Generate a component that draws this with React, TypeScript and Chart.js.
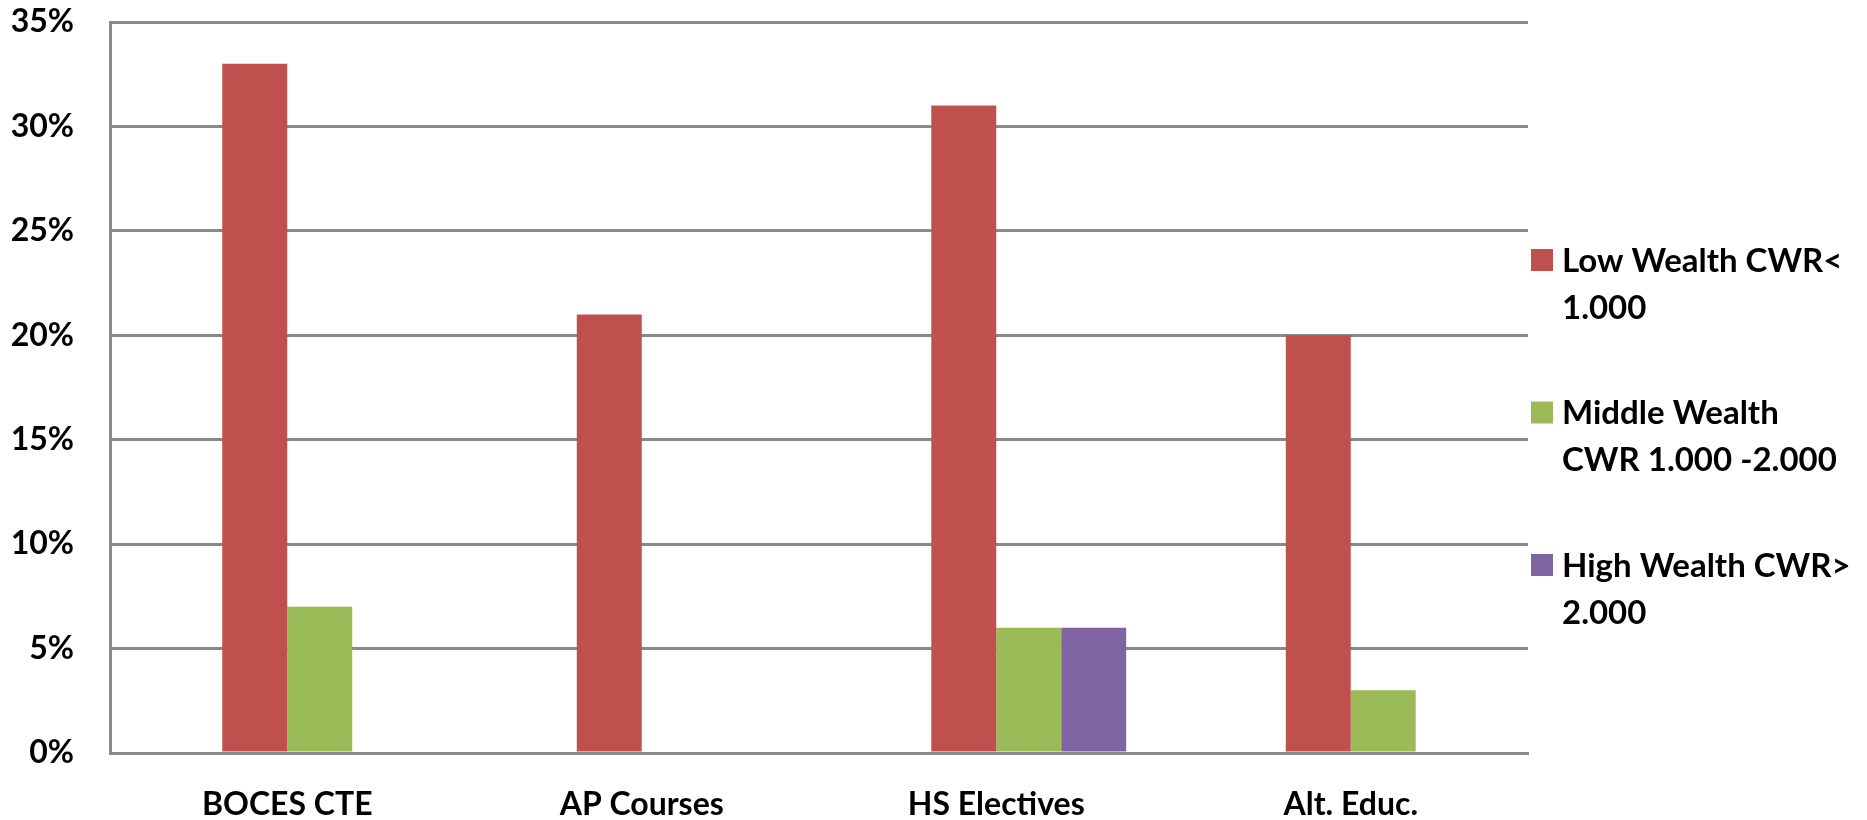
import React, { useEffect, useRef } from "react";
import { Chart, registerables } from "chart.js";

Chart.register(...registerables);

const categories = ["BOCES CTE", "AP Courses", "HS Electives", "Alt. Educ."];
const lowWealth = [33, 21, 31, 20];
const middleWealth = [7, 0, 6, 3];
const highWealth = [0, 0, 6, 0];
const seriesNames = [
  ["Low Wealth CWR<", "1.000"],
  ["Middle Wealth", "CWR 1.000 -2.000"],
  ["High Wealth CWR>", "2.000"],
];
const seriesColors = ["#C0504D", "#9BBB59", "#8064A2"];
const yMin = 0;
const yMax = 35;
const yStep = 5;

const FONT = "Lato, 'Open Sans', sans-serif";
const GRID = "#898989";

const legendPlugin = {
  id: "sideLegend",
  afterDraw(chart: any) {
    const ctx = chart.ctx;
    const area = chart.chartArea;
    const x0 = area.right + 3;
    ctx.save();
    ctx.font = `bold 33px ${FONT}`;
    ctx.textBaseline = "middle";
    ctx.textAlign = "left";
    let idx = 0;
    chart.data.datasets.forEach((ds: any) => {
      if (!Array.isArray(ds.label)) return;
      const cy = 260 + idx * 152.5;
      ctx.fillStyle = ds.backgroundColor;
      ctx.fillRect(x0, cy - 11, 22, 22);
      ctx.fillStyle = "#000";
      ds.label.forEach((line: string, j: number) => {
        ctx.fillText(line, x0 + 31, cy + 1 + j * 47);
      });
      idx++;
    });
    ctx.restore();
  },
};

export default function App() {
  const ref = useRef<HTMLCanvasElement>(null);
  useEffect(() => {
    const series = [lowWealth, middleWealth, highWealth];
    const chart = new Chart(ref.current!, {
      type: "bar",
      data: {
        labels: categories,
        datasets: [
          { label: "", data: categories.map(() => null), backgroundColor: "rgba(0,0,0,0)" } as any,
          ...series.map((d, i) => ({
            label: seriesNames[i] as any,
            data: d,
            backgroundColor: seriesColors[i],
            borderWidth: 0,
          })),
        ],
      },
      options: {
        responsive: false,
        animation: false,
        events: [],
        datasets: { bar: { categoryPercentage: 0.733, barPercentage: 1.0 } },
        layout: { padding: { left: 0, right: 339, top: 22, bottom: 0 } },
        plugins: { legend: { display: false }, tooltip: { enabled: false } },
        scales: {
          x: {
            grid: { display: false, drawTicks: false },
            border: { display: true, color: GRID, width: 3 },
            ticks: { color: "#000", font: { family: FONT, size: 32, weight: "bold" }, padding: 32, maxRotation: 0 },
            afterFit: (s: any) => {
              s.height = 67;
              s.paddingLeft = 0;
              s.paddingRight = 0;
            },
          },
          y: {
            min: yMin,
            max: yMax,
            ticks: {
              stepSize: yStep,
              color: "#000",
              font: { family: FONT, size: 32, weight: "bold" },
              padding: 36,
              callback: (v: any) => `${v}%`,
            },
            grid: { color: GRID, lineWidth: 3, drawTicks: false },
            border: { display: true, color: GRID, width: 3 },
            afterFit: (s: any) => {
              s.width = 110;
              s.paddingTop = 0;
              s.paddingBottom = 0;
            },
          },
        },
      },
      plugins: [legendPlugin],
    });
    return () => chart.destroy();
  }, []);
  return (
    <div style={{ position: "fixed", left: 0, top: 0, width: 1867, height: 820, background: "#fff" }}>
      <canvas ref={ref} width={1867} height={820} style={{ display: "block" }} />
    </div>
  );
}
